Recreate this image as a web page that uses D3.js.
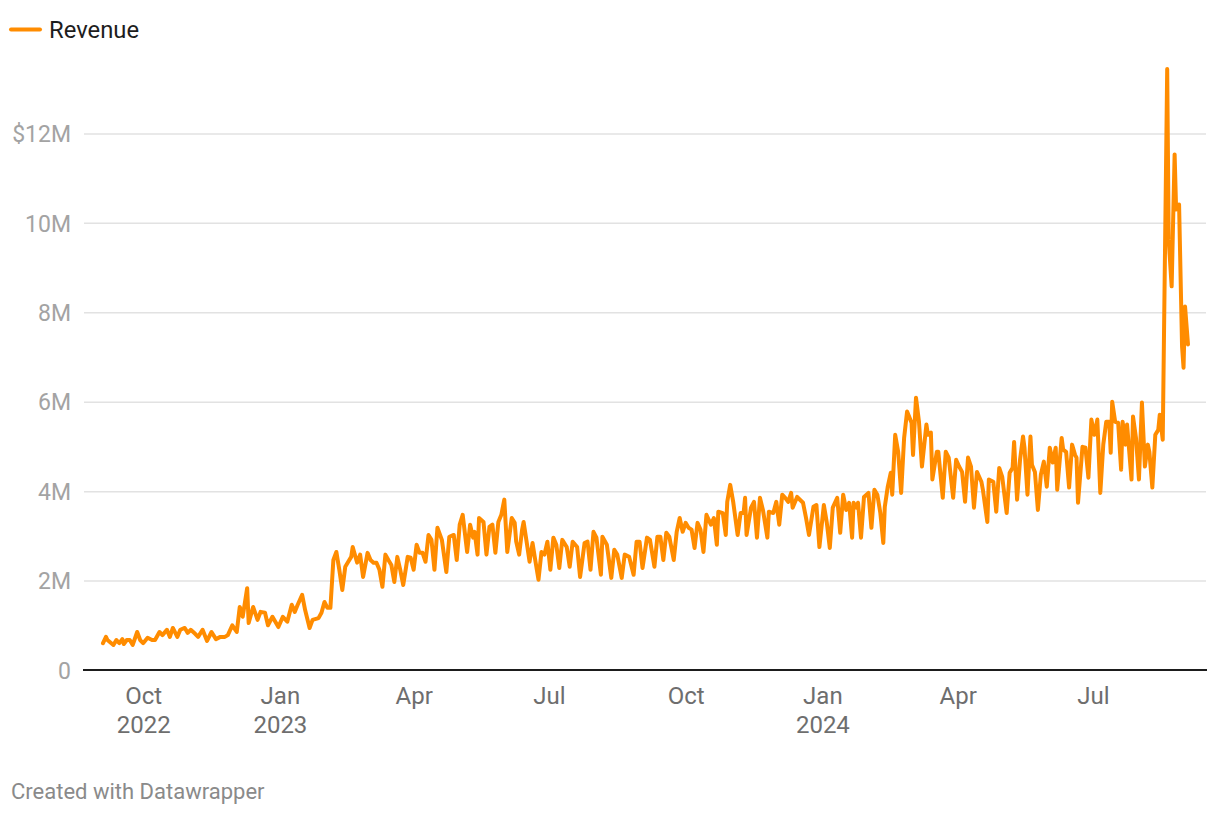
<!DOCTYPE html>
<html><head><meta charset="utf-8">
<script src="https://cdn.jsdelivr.net/npm/d3@7"></script>
<style>
body{margin:0;background:#fff;}
svg{display:block;font-family:Roboto,"Noto Sans",sans-serif;}
</style>
</head><body>
<svg id="chart" width="1220" height="816"></svg>
<script>
// ---- data ----
const seriesName = "Revenue";
// day offsets are counted from 1 Sep 2022
const seriesStartYear = 2022, seriesStartMonth = 8, seriesStartDay = 1;
const dayOffsets = [
3,5,6,10,12,14,16,17,19,21,23,26,28,30,33,36,38,41,43,46,48,50,53,55,58,60,62,65,67,70,73,76,79,82,85,87,90,93,95,97,100,101,104,107,109,112,
114,117,121,124,127,130,132,134,137,139,142,144,148,150,152,154,156,158,160,162,164,166,168,170,171,174,176,178,181,183,185,187,189,191,193,195,197,199,201,203,205,208,210,212,214,216,218,220,222,224,226,228,231,234,236,239,241,243,
245,248,250,252,253,255,256,259,261,263,265,267,269,271,273,275,278,280,281,283,285,286,288,290,292,294,296,298,300,302,304,306,308,310,312,315,317,319,322,324,327,329,331,333,335,338,339,342,345,347,349,352,354,357,360,362,364,
366,369,371,374,376,378,380,382,384,387,389,391,393,395,397,399,401,403,405,407,409,412,414,416,417,420,422,423,425,427,430,432,434,435,436,439,441,443,445,447,450,451,454,456,458,460,462,464,466,467,470,
474,476,478,481,483,485,488,490,492,494,497,499,501,503,505,507,508,510,511,513,515,518,520,522,524,526,528,529,531,533,534,536,538,540,542,544,547,548,550,552,554,557,558,560,561,564,565,568,570,572,575,577,579,581,583,585,587,589,591,594,595,598,599,602,604,606,
608,611,613,615,616,618,620,622,623,625,627,628,630,632,634,636,638,640,642,644,645,648,649,651,653,655,657,658,659,662,664,666,668,670,672,674,676,678,680,681,682,684,686,688,689,691,692,695,696,698,700,702,704,706,707,709,711,713,714,716,719,720,722,724,725,727,729,730,731,733
];
// revenue in millions of dollars
const revenueMillions = [
0.60,0.74,0.67,0.56,0.67,0.60,0.69,0.58,0.67,0.67,0.56,0.85,0.67,0.60,0.72,0.67,0.67,0.85,0.78,0.90,0.74,0.94,0.74,0.90,0.94,0.83,0.90,0.81,0.74,0.90,0.65,0.85,0.69,0.74,0.74,0.78,1.00,0.85,1.41,1.19,1.83,1.05,1.41,1.12,1.30,1.28,
1.00,1.19,0.96,1.19,1.08,1.46,1.30,1.46,1.68,1.34,0.94,1.12,1.16,1.28,1.52,1.39,1.39,2.46,2.64,2.24,1.79,2.31,2.42,2.53,2.75,2.40,2.58,2.08,2.62,2.46,2.40,2.40,2.24,1.86,2.58,2.46,2.35,1.97,2.53,2.24,1.90,2.53,2.51,2.24,2.80,2.62,2.62,2.42,3.02,2.91,2.24,3.18,2.91,2.19,2.98,3.02,2.46,3.25,
3.47,2.64,3.25,2.96,3.09,2.58,3.40,3.31,2.58,3.20,3.25,2.62,3.31,3.47,3.81,2.64,3.40,3.29,2.87,2.58,3.14,3.31,2.87,2.42,2.84,2.42,2.02,2.64,2.58,2.87,2.24,2.96,2.80,2.28,2.91,2.75,2.31,2.87,2.75,2.08,2.84,2.87,2.24,3.09,2.96,2.13,2.98,2.80,2.06,2.69,2.58,2.06,2.58,2.53,2.13,2.87,2.87,
2.28,2.96,2.91,2.31,2.98,2.98,2.46,3.07,2.98,2.46,3.09,3.40,3.09,3.29,3.18,3.14,2.73,3.29,3.14,2.64,3.47,3.25,3.40,2.80,3.54,3.51,3.02,3.76,4.14,3.76,3.02,3.51,3.51,3.85,3.02,3.63,3.76,2.96,3.85,3.58,2.96,3.54,3.51,3.76,3.25,3.92,3.85,3.76,3.96,3.63,3.87,
3.74,3.40,3.02,3.65,3.69,2.75,3.69,3.29,2.73,3.63,3.85,3.07,3.92,3.58,3.74,2.96,3.74,3.63,3.74,2.96,3.87,3.96,3.18,4.03,3.92,3.51,2.84,3.65,4.10,4.41,3.92,5.26,4.88,3.96,5.19,5.78,5.53,4.81,6.09,5.55,4.55,5.49,5.26,5.31,4.26,4.88,4.88,3.85,4.88,4.75,3.85,4.70,4.55,4.43,3.76,4.75,4.55,3.63,4.43,4.21,4.03,3.31,4.26,4.21,3.54,4.52,
4.32,3.51,4.41,4.52,5.10,3.81,4.70,5.22,4.97,3.92,5.22,4.59,4.43,3.58,4.37,4.66,4.10,4.97,4.64,4.97,4.03,5.19,4.93,4.88,4.08,5.04,4.81,4.75,3.74,4.99,4.97,4.30,5.60,5.26,5.60,3.96,5.04,5.55,5.55,4.86,6.00,5.55,5.53,4.48,5.55,5.04,5.49,4.26,5.67,5.19,4.26,5.98,4.55,5.04,4.88,4.08,5.26,5.37,5.71,5.15,13.44,9.63,8.58,11.53,10.30,10.41,7.23,6.76,8.13,7.28
];
const yTickValues = [0, 2, 4, 6, 8, 10, 12];
const yTickLabels = ["0", "2M", "4M", "6M", "8M", "10M", "$12M"];
const xTickDates = ["2022-10-01","2023-01-01","2023-04-01","2023-07-01","2023-10-01","2024-01-01","2024-04-01","2024-07-01"];
const xTickMonthLabels = ["Oct","Jan","Apr","Jul","Oct","Jan","Apr","Jul"];
const xTickYearLabels = ["2022","2023","","","","2024","",""];
const footerText = "Created with Datawrapper";

// ---- drawing ----
const svg = d3.select("#chart");
const dayToDate = d => new Date(seriesStartYear, seriesStartMonth, seriesStartDay + d);
const parseDay = s => { const p = s.split("-").map(Number); return new Date(p[0], p[1]-1, p[2]); };
const data = dayOffsets.map((d, i) => ({date: dayToDate(d), value: revenueMillions[i]}));

const plotLeft = 84, plotRight = 1206, baseY = 670;
const x = d3.scaleTime()
  .domain(d3.extent(data, d => d.date))
  .range([103, 1188]);
const y = d3.scaleLinear().domain([0, 12]).range([baseY, 133.4]);

// y axis + gridlines
const yAxis = d3.axisLeft(y)
  .tickValues(yTickValues)
  .tickFormat((d, i) => yTickLabels[i])
  .tickSize(-(plotRight - plotLeft))
  .tickPadding(13);
const gy = svg.append("g").attr("transform", `translate(${plotLeft},0)`).call(yAxis);
gy.select(".domain").remove();
gy.selectAll(".tick line").attr("stroke", "#e2e2e2").attr("stroke-width", 1.5);
gy.selectAll(".tick text")
  .attr("fill", "#a3a3a3")
  .attr("font-size", 23)
  .attr("font-family", "Roboto")
  .attr("dy", "0.36em");
gy.selectAll(".tick").filter(d => d === 0).select("line").attr("stroke", "none");

// x axis
const xAxis = d3.axisBottom(x)
  .tickValues(xTickDates.map(parseDay))
  .tickSize(0)
  .tickFormat("");
const gx = svg.append("g").attr("transform", `translate(0,${baseY})`).call(xAxis);
gx.select(".domain").remove();
gx.selectAll(".tick").each(function(d, i) {
  const t = d3.select(this).select("text")
    .attr("fill", "#6e6e6e").attr("font-size", 24).attr("font-family", "Roboto")
    .attr("y", 0).attr("dy", null).text(null);
  t.append("tspan").attr("x", 0).attr("y", 34).text(xTickMonthLabels[i]);
  if (xTickYearLabels[i]) t.append("tspan").attr("x", 0).attr("y", 63).text(xTickYearLabels[i]);
});

// line
const line = d3.line().x(d => x(d.date)).y(d => y(d.value));
svg.append("path").datum(data)
  .attr("d", line)
  .attr("fill", "none")
  .attr("stroke", "#ff8c00")
  .attr("stroke-width", 4)
  .attr("stroke-linejoin", "round")
  .attr("stroke-linecap", "round");

// zero baseline
svg.append("line")
  .attr("x1", plotLeft - 1).attr("x2", plotRight + 1)
  .attr("y1", y(0)).attr("y2", y(0))
  .attr("stroke", "#1d1d1d").attr("stroke-width", 2);

// legend
const lg = svg.append("g");
lg.append("line").attr("x1", 11).attr("x2", 40).attr("y1", 29.5).attr("y2", 29.5)
  .attr("stroke", "#ff8c00").attr("stroke-width", 4).attr("stroke-linecap", "round");
lg.append("text").attr("x", 49).attr("y", 37.5).attr("font-size", 23.8)
  .attr("fill", "#1d1d1d").text(seriesName);

// footer
svg.append("text").attr("x", 11).attr("y", 799).attr("font-size", 22)
  .attr("fill", "#8a8a8a").text(footerText);
</script>
</body></html>
